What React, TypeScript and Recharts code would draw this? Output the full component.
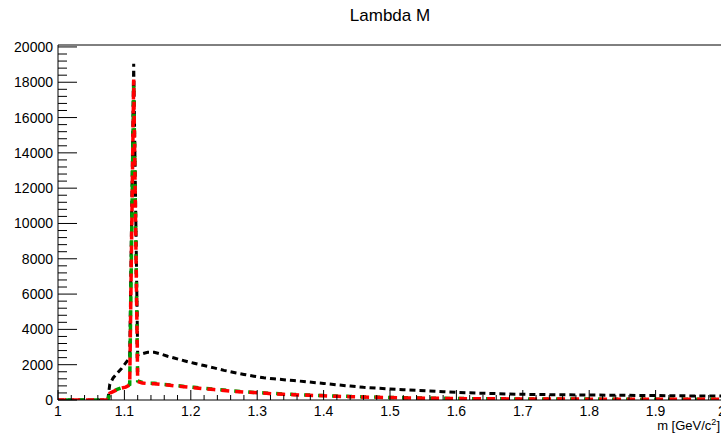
import React from "react";
import { LineChart, Line, XAxis, YAxis, ReferenceLine } from "recharts";

// invariant mass bin positions (GeV/c^2)
const massX = [
  1.0, 1.01, 1.02, 1.03, 1.04, 1.05, 1.06, 1.07, 1.075, 1.078, 1.083, 1.09, 1.096, 1.102, 1.108,
  1.114, 1.12, 1.127, 1.135, 1.145, 1.155, 1.165, 1.175, 1.19, 1.205, 1.22, 1.235, 1.25, 1.265,
  1.28, 1.295, 1.31, 1.325, 1.34, 1.355, 1.37, 1.385, 1.4, 1.42, 1.44, 1.46, 1.48, 1.5, 1.52,
  1.54, 1.56, 1.58, 1.6, 1.63, 1.66, 1.69, 1.72, 1.75, 1.78, 1.81, 1.84, 1.87, 1.9, 1.93, 1.96, 2.0,
];
const blackCounts = [
  0, 0, 0, 0, 0, 0, 0, 0, 0, 900, 1250, 1550, 1800, 2100, 2400,
  19050, 2550, 2620, 2700, 2700, 2600, 2480, 2380, 2220, 2080, 1950, 1820, 1680, 1560,
  1450, 1350, 1260, 1200, 1150, 1100, 1050, 990, 940, 860, 790, 720, 670, 620, 580,
  545, 510, 470, 430, 390, 360, 330, 310, 300, 290, 280, 270, 260, 250, 240, 230, 220,
];
const greenCounts = [
  0, 0, 0, 0, 0, 0, 0, 0, 0, 400, 500, 620, 700, 760, 880,
  18000, 1080, 1000, 960, 950, 900, 870, 830, 770, 720, 660, 610, 560, 510,
  470, 430, 400, 370, 340, 310, 290, 270, 250, 220, 200, 175, 160, 140, 125,
  115, 105, 95, 85, 75, 68, 62, 58, 55, 52, 50, 48, 47, 46, 44, 42, 40,
];
const redCounts = [
  0, 0, 0, 0, 0, 0, 0, 0, 0, 380, 470, 600, 680, 730, 850,
  18150, 1050, 960, 930, 920, 880, 850, 800, 750, 700, 640, 590, 540, 490,
  450, 420, 390, 350, 320, 300, 280, 260, 240, 210, 190, 170, 150, 135, 120,
  110, 100, 90, 80, 70, 65, 60, 55, 52, 50, 48, 46, 45, 44, 42, 40, 38,
];

const xMajorTicks = [1, 1.1, 1.2, 1.3, 1.4, 1.5, 1.6, 1.7, 1.8, 1.9, 2];
const xTickLabels = ["1", "1.1", "1.2", "1.3", "1.4", "1.5", "1.6", "1.7", "1.8", "1.9", "2"];
const xMinorTicks = [
  1.02, 1.04, 1.06, 1.08, 1.12, 1.14, 1.16, 1.18, 1.22, 1.24, 1.26, 1.28, 1.32, 1.34, 1.36, 1.38,
  1.42, 1.44, 1.46, 1.48, 1.52, 1.54, 1.56, 1.58, 1.62, 1.64, 1.66, 1.68, 1.72, 1.74, 1.76, 1.78,
  1.82, 1.84, 1.86, 1.88, 1.92, 1.94, 1.96, 1.98,
];
const yMajorTicks = [0, 2000, 4000, 6000, 8000, 10000, 12000, 14000, 16000, 18000, 20000];
const yTickLabels = ["0", "2000", "4000", "6000", "8000", "10000", "12000", "14000", "16000", "18000", "20000"];
const yMinorStep = 400;
const yMax = 20110;

const title = "Lambda M";
const FONT = "'Liberation Sans', Arial, Helvetica, sans-serif";

const data = massX.map((x, i) => ({
  x,
  black: blackCounts[i],
  green: greenCounts[i],
  red: redCounts[i],
}));

const yMinorTicks: number[] = [];
for (let v = 0; v <= 20000; v += yMinorStep) {
  if (v % 2000 !== 0) yMinorTicks.push(v);
}

const allXTicks = [...xMajorTicks, ...xMinorTicks].sort((a, b) => a - b);
const allYTicks = [...yMajorTicks, ...yMinorTicks].sort((a, b) => a - b);

function XTick(props: any) {
  const { x, y, payload } = props;
  const idx = xMajorTicks.findIndex((t) => Math.abs(t - payload.value) < 1e-6);
  const major = idx >= 0;
  const len = major ? 10 : 5;
  return (
    <g>
      <line x1={x} x2={x} y1={y} y2={y - len} stroke="#000" strokeWidth={1} />
      {major && (
        <text x={x} y={y + 16} textAnchor="middle" fontSize={14} fontFamily={FONT} fill="#000">
          {xTickLabels[idx]}
        </text>
      )}
    </g>
  );
}

function YTick(props: any) {
  const { x, y, payload } = props;
  const idx = yMajorTicks.findIndex((t) => Math.abs(t - payload.value) < 1e-6);
  const major = idx >= 0;
  const len = major ? 19 : 9;
  return (
    <g>
      <line x1={x} x2={x + len} y1={y} y2={y} stroke="#000" strokeWidth={1} />
      {major && (
        <text x={x - 5} y={y + 5} textAnchor="end" fontSize={14} fontFamily={FONT} fill="#000">
          {yTickLabels[idx]}
        </text>
      )}
    </g>
  );
}

export default function App() {
  return (
    <div
      style={{
        position: "absolute",
        left: 0,
        top: 0,
        width: 721,
        height: 435,
        overflow: "hidden",
        background: "#fff",
      }}
    >
      <LineChart
        width={724}
        height={435}
        data={data}
        margin={{ top: 45, right: 2, bottom: 0, left: 0 }}
      >
        <XAxis
          type="number"
          dataKey="x"
          domain={[1, 2]}
          ticks={allXTicks}
          interval={0}
          tickSize={0}
          tickMargin={0}
          tickLine={false}
          axisLine={{ stroke: "#000", strokeWidth: 1 }}
          tick={XTick}
          height={35}
          allowDataOverflow
        />
        <YAxis
          type="number"
          domain={[0, yMax]}
          ticks={allYTicks}
          interval={0}
          tickSize={0}
          tickMargin={0}
          tickLine={false}
          axisLine={{ stroke: "#000", strokeWidth: 1 }}
          tick={YTick}
          width={58}
          allowDataOverflow
        />
        <ReferenceLine y={yMax} stroke="#000" strokeWidth={1} ifOverflow="extendDomain" />
        <Line
          type="linear"
          dataKey="black"
          stroke="#000"
          strokeWidth={3}
          strokeDasharray="6 4"
          dot={false}
          isAnimationActive={false}
        />
        <Line
          type="linear"
          dataKey="green"
          stroke="#00a000"
          strokeWidth={3.5}
          strokeDasharray="6 8"
          strokeDashoffset={7}
          dot={false}
          isAnimationActive={false}
        />
        <Line
          type="linear"
          dataKey="red"
          stroke="#ff0000"
          strokeWidth={3.5}
          strokeDasharray="8 6"
          dot={false}
          isAnimationActive={false}
        />
      </LineChart>
      <svg
        width={721}
        height={435}
        style={{ position: "absolute", left: 0, top: 0, pointerEvents: "none" }}
      >
        <text x={390} y={21} textAnchor="middle" fontSize={17} fontFamily={FONT} fill="#000">
          {title}
        </text>
        <text x={720} y={430} textAnchor="end" fontSize={13} fontFamily={FONT} fill="#000">
          m [GeV/c
          <tspan fontSize={9} dy={-5}>
            2
          </tspan>
          <tspan dy={5}>]</tspan>
        </text>
      </svg>
    </div>
  );
}
